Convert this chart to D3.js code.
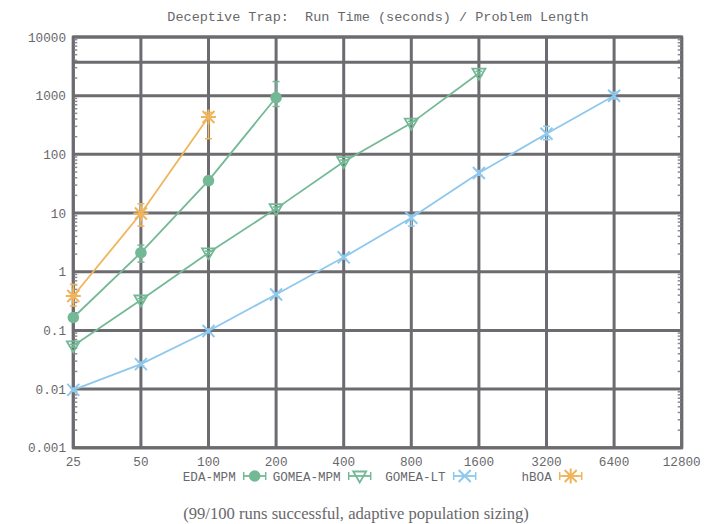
<!DOCTYPE html>
<html>
<head>
<meta charset="utf-8">
<script src="https://cdn.jsdelivr.net/npm/d3@7"></script>
<style>
  html, body { margin: 0; padding: 0; background: #fff; }
  svg { display: block; }
  text { white-space: pre; }
</style>
</head>
<body>
<svg id="chart" width="717" height="524"></svg>
<script>
// Problem lengths (x axis, log base 2)
const xTicks = [25, 50, 100, 200, 400, 800, 1600, 3200, 6400, 12800];
// Run time axis (log base 10)
const yTicks = [0.001, 0.01, 0.1, 1, 10, 100, 1000, 10000];
const yTickLabels = ["0.001", "0.01", "0.1", "1", "10", "100", "1000", "10000"];
const extraGrid = [3700];

// Series: median run time with lower / upper error bounds
const edaLen   = [25, 50, 100, 200];
const edaVal   = [0.166, 2.11, 35.7, 930];
const edaLow   = [0.155, 1.46, 31, 655];
const edaHigh  = [0.178, 2.84, 41, 1740];

const gmpmLen  = [25, 50, 100, 200, 400, 800, 1600];
const gmpmVal  = [0.0547, 0.33, 2.1, 11.9, 75, 341, 2417];
const gmpmLow  = [0.052, 0.31, 1.95, 11.2, 70, 320, 2250];
const gmpmHigh = [0.058, 0.35, 2.25, 12.7, 80, 365, 2600];

const gltLen   = [25, 50, 100, 200, 400, 800, 1600, 3200, 6400];
const gltVal   = [0.0097, 0.0267, 0.098, 0.41, 1.76, 8.3, 48, 225, 995];
const gltLow   = [0.0091, 0.025, 0.091, 0.38, 1.65, 6.0, 44, 178, 880];
const gltHigh  = [0.0104, 0.029, 0.106, 0.44, 1.9, 9.2, 53, 300, 1150];

const hboaLen  = [25, 50, 100];
const hboaVal  = [0.386, 9.8, 432];
const hboaLow  = [0.26, 6.0, 185];
const hboaHigh = [0.61, 14.4, 520];

const seriesNames = ["EDA-MPM", "GOMEA-MPM", "GOMEA-LT", "hBOA"];

const colors = {
  green: "#74b996",
  blue: "#8ec8ec",
  orange: "#f0b55c",
  grid: "#6c6c70",
  text: "#68686c"
};

const series = [
  { name: seriesNames[0], len: edaLen, val: edaVal, low: edaLow, high: edaHigh, color: colors.green, marker: "circle" },
  { name: seriesNames[1], len: gmpmLen, val: gmpmVal, low: gmpmLow, high: gmpmHigh, color: colors.green, marker: "triangle" },
  { name: seriesNames[2], len: gltLen, val: gltVal, low: gltLow, high: gltHigh, color: colors.blue, marker: "cross" },
  { name: seriesNames[3], len: hboaLen, val: hboaVal, low: hboaLow, high: hboaHigh, color: colors.orange, marker: "star" }
];

const svg = d3.select("#chart");
const plot = { left: 73.3, right: 681.7, top: 37, bottom: 447.8 };

const x = d3.scaleLog().base(2).domain([25, 12800]).range([plot.left, plot.right]);
const y = d3.scaleLog().base(10).domain([0.001, 10000]).range([plot.bottom, plot.top]);

const mono = "'Liberation Mono', 'DejaVu Sans Mono', monospace";

// Title
svg.append("text")
  .attr("x", 378).attr("y", 21)
  .attr("text-anchor", "middle")
  .attr("font-family", mono).attr("font-size", 13.5)
  .attr("fill", colors.text)
  .text("Deceptive Trap:  Run Time (seconds) / Problem Length");

// Grid lines
const grid = svg.append("g").attr("stroke", colors.grid).attr("stroke-width", 3);
grid.selectAll("line.gx").data(xTicks).join("line")
  .attr("x1", d => x(d)).attr("x2", d => x(d))
  .attr("y1", plot.top).attr("y2", plot.bottom);
grid.selectAll("line.gy").data(yTicks.concat(extraGrid)).join("line")
  .attr("x1", plot.left).attr("x2", plot.right)
  .attr("y1", d => y(d)).attr("y2", d => y(d));
grid.append("rect")
  .attr("x", plot.left).attr("y", plot.top)
  .attr("width", plot.right - plot.left).attr("height", plot.bottom - plot.top)
  .attr("fill", "none");

// Minor log ticks on the left and right edges
const minor = [];
for (let e = -3; e < 4; e++) for (let k = 2; k <= 9; k++) minor.push(k * Math.pow(10, e));
const mt = svg.append("g").attr("stroke", "#8a8a8e").attr("stroke-width", 1.5);
mt.selectAll("line.ml").data(minor).join("line")
  .attr("x1", plot.left + 1).attr("x2", plot.left + 4)
  .attr("y1", d => y(d)).attr("y2", d => y(d));
mt.selectAll("line.mr").data(minor).join("line")
  .attr("x1", plot.right - 4).attr("x2", plot.right - 1)
  .attr("y1", d => y(d)).attr("y2", d => y(d));

// Axis labels
svg.append("g").selectAll("text").data(yTicks).join("text")
  .attr("x", 66).attr("y", d => y(d) + 4.5)
  .attr("text-anchor", "end")
  .attr("font-family", mono).attr("font-size", 12.7)
  .attr("fill", colors.text)
  .text((d, i) => yTickLabels[i]);

svg.append("g").selectAll("text").data(xTicks).join("text")
  .attr("x", d => x(d)).attr("y", 466)
  .attr("text-anchor", "middle")
  .attr("font-family", mono).attr("font-size", 12.7)
  .attr("fill", colors.text)
  .text(d => String(d));

// Marker drawing
function drawMarker(g, type, color) {
  if (type === "circle") {
    g.append("circle").attr("r", 5.8).attr("fill", color);
  } else if (type === "triangle") {
    g.append("path").attr("d", "M-6.5,-4.5 L6.5,-4.5 L0,6.5 Z")
      .attr("fill", "none").attr("stroke", color).attr("stroke-width", 1.8);
  } else if (type === "cross") {
    g.append("path").attr("d", "M-6,-6 L6,6 M-6,6 L6,-6")
      .attr("stroke", color).attr("stroke-width", 2);
  } else if (type === "star") {
    g.append("path").attr("d", "M-6,-6 L6,6 M-6,6 L6,-6 M0,-7.5 L0,7.5 M-7.5,0 L7.5,0")
      .attr("stroke", color).attr("stroke-width", 2);
  }
}

const line = d3.line().x(d => x(d.len)).y(d => y(d.val));

series.forEach(s => {
  const pts = s.len.map((len, i) => ({ len, val: s.val[i], low: s.low[i], high: s.high[i] }));
  const g = svg.append("g");
  g.append("path").datum(pts).attr("d", line)
    .attr("fill", "none").attr("stroke", s.color).attr("stroke-width", 1.8);
  // error bars
  const eb = g.append("g").attr("stroke", s.color).attr("stroke-width", 1.5);
  pts.forEach(p => {
    const cx = x(p.len);
    eb.append("line").attr("x1", cx).attr("x2", cx).attr("y1", y(p.low)).attr("y2", y(p.high));
    eb.append("line").attr("x1", cx - 3.5).attr("x2", cx + 3.5).attr("y1", y(p.low)).attr("y2", y(p.low));
    eb.append("line").attr("x1", cx - 3.5).attr("x2", cx + 3.5).attr("y1", y(p.high)).attr("y2", y(p.high));
  });
  pts.forEach(p => {
    drawMarker(g.append("g").attr("transform", `translate(${x(p.len)},${y(p.val)})`), s.marker, s.color);
  });
});

// Legend
const legendEnds = [235.7, 340.7, 445.7, 551.7];
const legendY = 476;
series.forEach((s, i) => {
  const lg = svg.append("g");
  lg.append("text")
    .attr("x", legendEnds[i]).attr("y", legendY + 4.5)
    .attr("text-anchor", "end")
    .attr("font-family", mono).attr("font-size", 12.6)
    .attr("fill", colors.text)
    .text(s.name);
  const x0 = legendEnds[i] + 8, x1 = legendEnds[i] + 30;
  lg.append("line").attr("x1", x0).attr("x2", x1).attr("y1", legendY).attr("y2", legendY)
    .attr("stroke", s.color).attr("stroke-width", 1.8);
  [x0, x1].forEach(xx => lg.append("line").attr("x1", xx).attr("x2", xx)
    .attr("y1", legendY - 4).attr("y2", legendY + 4)
    .attr("stroke", s.color).attr("stroke-width", 1.5));
  drawMarker(lg.append("g").attr("transform", `translate(${(x0 + x1) / 2},${legendY})`), s.marker, s.color);
});

// Subtitle
svg.append("text")
  .attr("x", 356).attr("y", 519)
  .attr("text-anchor", "middle")
  .attr("font-family", "'Liberation Serif', 'DejaVu Serif', serif").attr("font-size", 16.6)
  .attr("fill", colors.text)
  .text("(99/100 runs successful, adaptive population sizing)");
</script>
</body>
</html>
